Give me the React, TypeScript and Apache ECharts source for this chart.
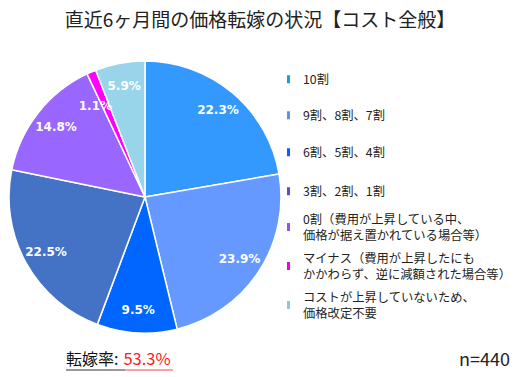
import React, { useEffect, useRef } from "react";
import * as echarts from "echarts";

const titleText = "直近6ヶ月間の価格転嫁の状況【コスト全般】";
const categories = [
  "10割",
  "9割、8割、7割",
  "6割、5割、4割",
  "3割、2割、1割",
  "0割（費用が上昇している中、\n価格が据え置かれている場合等）",
  "マイナス（費用が上昇したにも\nかかわらず、逆に減額された場合等）",
  "コストが上昇していないため、\n価格改定不要",
];
const values = [22.3, 23.9, 9.5, 22.5, 14.8, 1.1, 5.9];
const sliceColors = ["#3399ff", "#6699ff", "#0066ff", "#4472c4", "#9966ff", "#ff00ff", "#99d5ea"];
const legendColors = ["#12a3dc", "#5f8ff0", "#0a5ef0", "#5050dc", "#9055ee", "#ee00ee", "#8ec8dc"];
const rateLabel = "転嫁率:";
const rateValue = "53.3%";
const sampleLabel = "n=440";

const legendCenters = [79, 115, 152, 191, 227, 266, 305];

export default function App() {
  const ref = useRef<HTMLDivElement>(null);
  useEffect(() => {
    document.body.style.margin = "0";
    const chart = echarts.init(ref.current!, null, { renderer: "svg" });
    const font = "'Noto Sans CJK JP', 'Noto Sans', sans-serif";
    const R = 136;
    const data = categories.map((name, i) => ({
      name,
      value: values[i],
      itemStyle: { color: sliceColors[i] },
    }));
    const legends = categories.map((name, i) => {
      const twoLine = name.includes("\n");
      return {
        data: [name],
        orient: "vertical",
        left: 287,
        top: legendCenters[i] - (twoLine ? 16.5 : 8),
        itemWidth: 3,
        itemHeight: 8,
        icon: "rect",
        padding: 0,
        selectedMode: false,
        itemStyle: { color: legendColors[i], borderWidth: 0, borderColor: "transparent" },
        textStyle: {
          fontFamily: font,
          fontSize: 12.3,
          lineHeight: 16.5,
          color: "#222",
          padding: [0, 0, 0, 8],
        },
      };
    });
    chart.setOption({
      animation: false,
      backgroundColor: "#fff",
      title: {
        text: titleText,
        left: "center",
        top: 4,
        textStyle: { fontFamily: font, fontSize: 19, fontWeight: "normal", color: "#222" },
      },
      legend: legends,
      series: [
        {
          type: "pie",
          center: [145, 197],
          radius: [0, R],
          startAngle: 90,
          clockwise: true,
          label: { show: false },
          labelLine: { show: false },
          itemStyle: { borderColor: "#fff", borderWidth: 1.5 },
          emphasis: { disabled: true },
          data,
        },
        {
          type: "pie",
          center: [145, 197],
          radius: [R * 0.62, R],
          startAngle: 90,
          clockwise: true,
          silent: true,
          legendHoverLink: false,
          avoidLabelOverlap: false,
          minShowLabelAngle: 0,
          labelLayout: (p: any) =>
            values[p.dataIndex] < 2 ? { dx: -5, dy: 13, hideOverlap: false } : { hideOverlap: false },
          itemStyle: { color: "transparent" },
          labelLine: { show: false },
          label: {
            show: true,
            position: "inside",
            formatter: (p: any) => `${p.value}%`,
            color: "#fff",
            fontFamily: "'DejaVu Sans', sans-serif",
            fontWeight: "bold",
            fontSize: 12,
          },
          data: categories.map((name, i) => ({ name: name + " ", value: values[i] })),
        },
      ],
      graphic: [
        {
          type: "text",
          left: 66,
          top: 350,
          style: {
            text: `{a|${rateLabel}}{b|${rateValue}}`,
            rich: {
              a: { fontFamily: font, fontSize: 16, fill: "#111", padding: [0, 5, 0, 0] },
              b: { fontFamily: font, fontSize: 16.5, fill: "#ff2020" },
            },
          },
        },
        { type: "line", shape: { x1: 66, y1: 370, x2: 125, y2: 370 }, style: { stroke: "#333", lineWidth: 1 } },
        { type: "line", shape: { x1: 125, y1: 370, x2: 173, y2: 370 }, style: { stroke: "#ff4040", lineWidth: 1 } },
        {
          type: "text",
          right: 10,
          top: 349,
          style: { text: sampleLabel, fontFamily: font, fontSize: 18, fill: "#222" },
        },
      ],
    });
    return () => chart.dispose();
  }, []);
  return <div ref={ref} style={{ width: 520, height: 377 }} />;
}
